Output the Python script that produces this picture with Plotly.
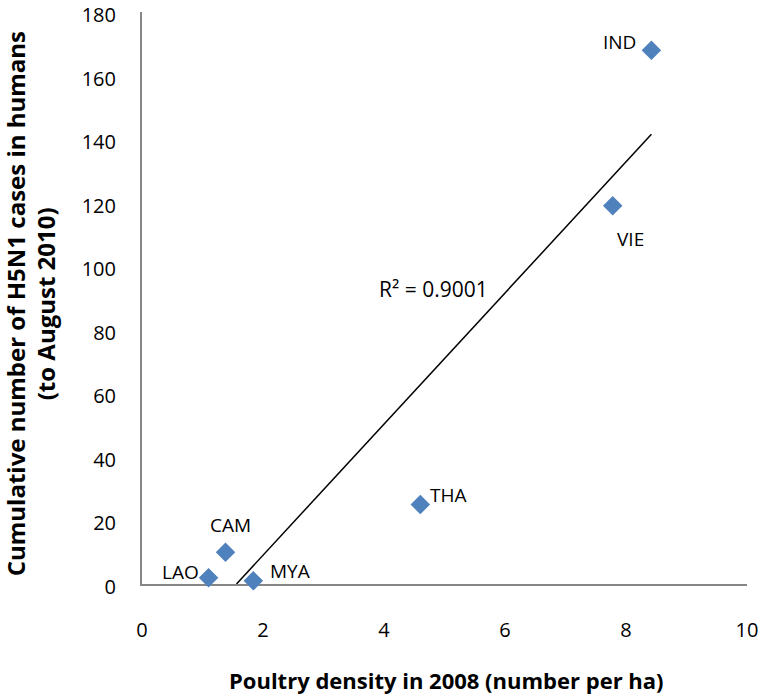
import numpy as np
import plotly.graph_objects as go

countries = ["LAO", "CAM", "MYA", "THA", "VIE", "IND"]
density = [1.1, 1.38, 1.84, 4.6, 7.78, 8.42]
cases = [2, 10, 1, 25, 119, 168]
# label offsets in pixels (dx, dy up)
label_dx = [-28, 5, 37, 28, 18, -32]
label_dy = [6, 27, 10, 10, -33, 8]
r2_label = "R² = 0.9001"
x_ticks = [0, 2, 4, 6, 8, 10]
y_ticks = [0, 20, 40, 60, 80, 100, 120, 140, 160, 180]

FONT = "Open Sans"

slope, intercept = np.polyfit(density, cases, 1)
x0 = max(min(density), -intercept / slope)
x1 = max(density)
tx = [x0, x1]
ty = [slope * x0 + intercept, slope * x1 + intercept]

fig = go.Figure()
fig.add_trace(go.Scatter(x=tx, y=ty, mode="lines",
                         line=dict(color="black", width=1.5),
                         hoverinfo="skip", showlegend=False))
fig.add_trace(go.Scatter(x=density, y=cases, mode="markers",
                         marker=dict(symbol="diamond", size=15, color="#4F81BD"),
                         cliponaxis=False, showlegend=False))

for c, xv, yv, dx, dy in zip(countries, density, cases, label_dx, label_dy):
    fig.add_annotation(x=xv, y=yv, text=c, showarrow=False,
                       xshift=dx, yshift=dy,
                       font=dict(family=FONT, size=19, color="black"))

fig.add_annotation(x=4.82, y=92.8, text=r2_label, showarrow=False,
                   font=dict(family=FONT, size=21, color="black"))

fig.add_annotation(xref="paper", yref="paper", x=0.503, y=0, yshift=-96,
                   xanchor="center", yanchor="middle",
                   text="<b>Poultry density in 2008 (number per ha)</b>",
                   showarrow=False, font=dict(family=FONT, size=22, color="black"))
fig.add_annotation(xref="paper", yref="paper", x=0, y=0.489, xshift=-127,
                   xanchor="center", yanchor="middle", textangle=-90,
                   text="<b>Cumulative number of H5N1 cases in humans</b>",
                   showarrow=False, font=dict(family=FONT, size=24, color="black"))
fig.add_annotation(xref="paper", yref="paper", x=0, y=0.489, xshift=-97,
                   xanchor="center", yanchor="middle", textangle=-90,
                   text="<b>(to August 2010)</b>",
                   showarrow=False, font=dict(family=FONT, size=24, color="black"))

fig.update_layout(
    width=763, height=698,
    margin=dict(l=142, r=16, t=12, b=114),
    plot_bgcolor="white", paper_bgcolor="white",
    font=dict(family=FONT, size=20, color="black"),
    xaxis=dict(range=[0, 10], tickvals=x_ticks, showgrid=False, zeroline=False,
               showline=True, linecolor="#868686", linewidth=2,
               ticks="outside", ticklen=27, tickcolor="rgba(0,0,0,0)",
               layer="below traces", fixedrange=True, automargin=False,
               ticklabeloverflow="allow"),
    yaxis=dict(range=[0, 180], tickvals=y_ticks, showgrid=False, zeroline=False,
               showline=True, linecolor="#868686", linewidth=2,
               ticks="outside", ticklen=20, tickcolor="rgba(0,0,0,0)",
               ticklabelshift=3,
               layer="below traces", fixedrange=True, automargin=False,
               ticklabeloverflow="allow"),
)

fig.write_html("out.html", config={"displayModeBar": False},
               post_script="document.body.style.margin='0';document.body.style.overflow='hidden';")
